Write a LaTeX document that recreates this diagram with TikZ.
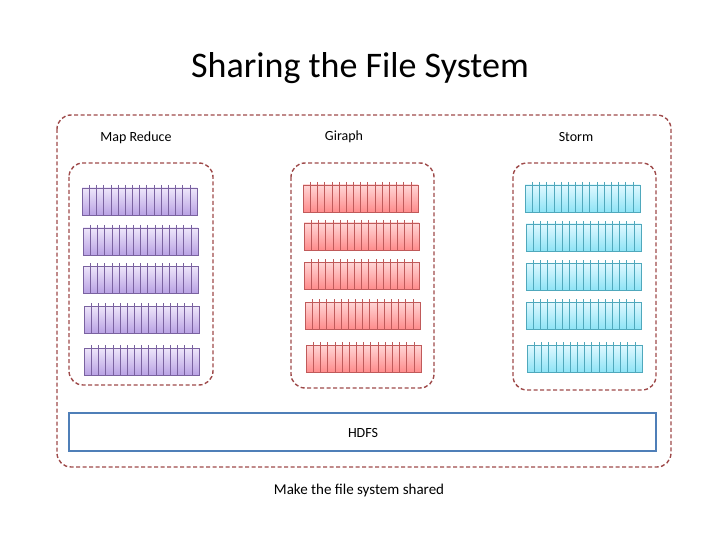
\documentclass[tikz,border=0pt]{standalone}
\usepackage{fontspec}
\setmainfont{Carlito}
\definecolor{vtop}{HTML}{EEE6FA}\definecolor{vbot}{HTML}{B9A2E4}
\definecolor{rtop}{HTML}{FFD6D6}\definecolor{rbot}{HTML}{FF8C8C}
\definecolor{ctop}{HTML}{E0F8FF}\definecolor{cbot}{HTML}{8EE4F6}
\definecolor{vln}{HTML}{7A62A0}\definecolor{rln}{HTML}{C05A5A}\definecolor{cln}{HTML}{4FA8BC}
\definecolor{grpc}{HTML}{9E4A4A}\definecolor{hdfsc}{HTML}{4F7FB8}
\begin{document}
\begin{tikzpicture}[x=1pt,y=-1pt,
  grp/.style={draw=grpc,line width=1.4pt,dash pattern=on 4pt off 2.5pt,rounded corners=14pt},
  lbl/.style={font=\fontsize{14}{16}\selectfont,anchor=center},
  pics/rack/.style n args={3}{code={
    \shade[top color=#1,bottom color=#2] (0,0) rectangle (115,27);
    \draw[#3,line width=0.5pt] (0,0) rectangle (115,27);
    \foreach \i in {1,...,15} \draw[#3,line width=0.5pt] (\i*115/16,-3) -- (\i*115/16,27);
  }}]
\useasboundingbox (0,0) rectangle (720,540);
\node[font=\fontsize{36}{40}\selectfont] (title) at (360,68) {Sharing the File System};
\draw[grp] (57,115) rectangle (671,467);
\draw[grp] (69,163) rectangle (213,385);
\draw[grp] (291,163) rectangle (434,388);
\draw[grp] (513,163) rectangle (656,390);
\node[lbl] (mr) at (136,138) {Map Reduce};
\node[lbl] (gi) at (344,137) {Giraph};
\node[lbl] (st) at (576,137) {Storm};
\foreach \x/\y in {82/188,83/228,83/266,84/306,84/348}
  \pic at (\x,\y) {rack={vtop}{vbot}{vln}};
\foreach \x/\y in {303/185,304/223,304/262,305/302,306/345}
  \pic at (\x,\y) {rack={rtop}{rbot}{rln}};
\foreach \x/\y in {525/185,526/224,526/263,526/302,527/345}
  \pic at (\x,\y) {rack={ctop}{cbot}{cln}};
\draw[draw=hdfsc,line width=2pt,fill=white] (69,413) rectangle (656,451);
\node[lbl] (hdfs) at (363,433) {HDFS};
\node[font=\fontsize{15}{18}\selectfont] (cap) at (359,490) {Make the file system shared};
\end{tikzpicture}
\end{document}
